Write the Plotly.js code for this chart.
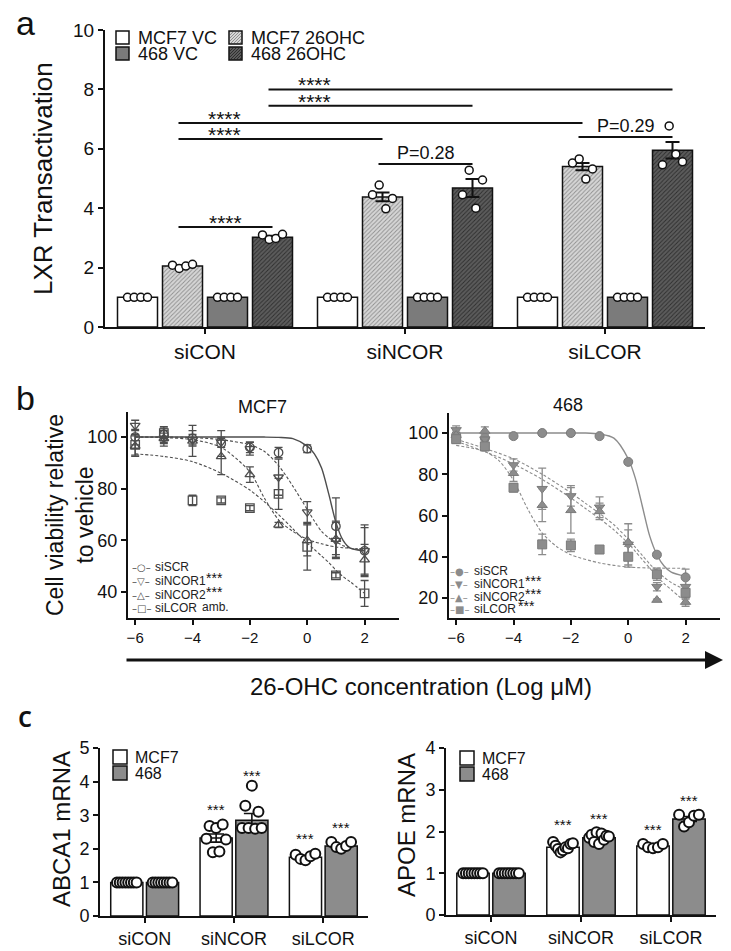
<!DOCTYPE html>
<html><head><meta charset="utf-8">
<script src="https://cdn.plot.ly/plotly-3.0.1.min.js"></script>
<style>html,body{margin:0;padding:0;background:#fff}#chart{width:731px;height:951px}</style>
</head><body><div id="chart"></div>
<script>
// ================= DATA =================
const categories = ['siCON', 'siNCOR', 'siLCOR'];

// ---- panel a : LXR transactivation ----
const aSeriesNames = ['MCF7 VC', 'MCF7 26OHC', '468 VC', '468 26OHC'];
const aMcf7VC   = [1, 1, 1];
const aMcf7OHC  = [2.05, 4.38, 5.40];
const a468VC    = [1, 1, 1];
const a468OHC   = [3.02, 4.68, 5.95];
const aMcf7OHCErr = [0.04, 0.15, 0.12];
const a468OHCErr  = [0.05, 0.30, 0.28];
const aPtsMcf7VC  = [[1, 1, 1, 1], [1, 1, 1, 1], [1, 1, 1, 1]];
const aPtsMcf7OHC = [[2.08, 1.97, 2.05, 2.11], [4.45, 4.78, 3.98, 4.33], [5.52, 5.66, 4.98, 5.32]];
const aPts468VC   = [[1, 1, 1, 1], [1, 1, 1, 1], [1, 1, 1, 1]];
const aPts468OHC  = [[3.10, 2.95, 2.98, 3.12], [4.45, 5.28, 4.00, 4.95], [5.46, 6.77, 5.82, 5.56]];
// significance brackets: [group, bar] -> [group, bar], height, label
const aSigFrom   = [[0, 1], [0, 1], [0, 1], [0, 3], [0, 3], [1, 1], [2, 1]];
const aSigTo     = [[0, 3], [1, 1], [2, 1], [1, 3], [2, 3], [1, 3], [2, 3]];
const aSigY      = [3.37, 6.33, 6.87, 7.45, 8.00, 5.49, 6.40];
const aSigLabels = ['****', '****', '****', '****', '****', 'P=0.28', 'P=0.29'];

// ---- panel b : cell viability ----
const bX = [-6, -5, -4, -3, -2, -1, 0, 1, 2];
const bTickVals = [-6, -4, -2, 0, 2];
const bSeriesNames = ['siSCR', 'siNCOR1', 'siNCOR2', 'siLCOR'];
const bLeftMarks  = ['', '***', '***', 'amb.'];
const bRightMarks = ['', '***', '***', '***'];
// MCF7
const mcf7SCR      = [100, 101, 99.5, 97.5, 96, 94, 95.5, 65.5, 56];
const mcf7SCRErr   = [3, 3, 3, 5, 2, 2, 1.5, 11, 10];
const mcf7NCOR1    = [104.5, 99.5, 99, 98, 95.5, 84.5, 71, 60, 56];
const mcf7NCOR1Err = [2, 2, 2, 2, 2.5, 7, 4, 7, 9];
const mcf7NCOR2    = [96.5, 99.5, 98.5, 92.5, 85.5, 66, 60, 60.5, 52.5];
const mcf7NCOR2Err = [4, 3, 6, 7, 3, 1, 6, 7, 6];
const mcf7LCOR     = [97, 101.5, 75.5, 75.5, 72.5, 78, 57.5, 46.5, 39.5];
const mcf7LCORErr  = [4, 2, 2, 1, 1, 6, 9, 1, 5];
// fitted curves
const curveX = [-6, -5, -4, -3, -2, -1.5, -1, -0.5, 0, 0.25, 0.5, 0.75, 1, 1.25, 1.5, 2];
const mcf7CurveSCR   = [100, 100, 100, 100, 100, 100, 99.9, 99.4, 96.5, 93.5, 88, 78, 67, 60, 57, 56];
const mcf7CurveNCOR1 = [100, 100, 99.8, 99, 97, 94.5, 89, 81, 72, 67.5, 63.5, 61, 59.5, 58, 57, 56];
const mcf7CurveNCOR2 = [100, 99.8, 99, 96, 86.5, 76.5, 68, 63.5, 60.5, 59.5, 58.7, 58, 57.5, 57.2, 57, 56.5];
const mcf7CurveLCOR  = [93.5, 92.5, 90.5, 86, 79.5, 75, 70, 64.5, 59, 56.5, 54, 51.5, 48.5, 46, 44, 39.5];
// 468
const r468SCR      = [99, 97.5, 98.5, 100, 100, 98.5, 86, 41, 30];
const r468SCRErr   = [1, 2, 1, 0.5, 0.5, 0.5, 0.5, 1, 4];
const r468NCOR1    = [101.5, 97, 84.5, 73, 69.5, 64, 46, 25.5, 25.5];
const r468NCOR1Err = [2, 2, 3, 10, 5, 5, 10, 2, 4];
const r468NCOR2    = [99, 101, 80.5, 65, 62.5, 62, 47, 19, 18];
const r468NCOR2Err = [2, 2, 4, 8, 11, 4, 6, 0.5, 2];
const r468LCOR     = [97, 93.5, 73.5, 46, 45.5, 43.5, 40, 31.5, 22.5];
const r468LCORErr  = [2, 2, 2, 5, 3, 0.5, 5, 3, 3];
const r468CurveSCR   = [100, 100, 100, 100, 100, 100, 99.5, 97.5, 87.5, 78, 64, 50, 41, 35.5, 32.5, 30.5];
const r468CurveNCOR1 = [97, 92.5, 87.5, 80, 71, 66, 61, 55.5, 48.5, 44.5, 40.5, 36.5, 33, 30, 27.5, 24];
const r468CurveNCOR2 = [96, 91, 85, 77.5, 68.5, 63.5, 58.5, 53, 46.5, 42.5, 38.5, 34.5, 30.5, 27, 24, 18];
const r468LCORCurveX = [-6, -5, -4.5, -4, -3.5, -3, -2.5, -2, -1, 0, 1, 2];
const r468CurveLCOR  = [94, 91, 86.5, 77, 63, 51.5, 45, 41, 37, 35, 34.5, 34.4];

// ---- panel c : mRNA ----
const cSeriesNames = ['MCF7', '468'];
const abcaMcf7    = [1, 2.32, 1.75];
const abcaMcf7Err = [0, 0.12, 0.04];
const abca468     = [1, 2.85, 2.08];
const abca468Err  = [0, 0.20, 0.07];
const abcaPtsMcf7 = [[1, 1, 1, 1, 1, 1, 1, 1], [2.30, 2.68, 1.90, 2.62, 1.92, 2.72, 2.28], [1.82, 1.70, 1.66, 1.78, 1.85]];
const abcaPts468  = [[1, 1, 1, 1, 1, 1, 1, 1], [2.62, 3.28, 2.62, 3.88, 2.60, 3.10, 2.62], [2.20, 2.05, 2.00, 2.08, 2.20]];
const abcaStarY   = [[null, 3.18, 2.32], [null, 4.18, 2.62]];
const apoeMcf7    = [1, 1.62, 1.65];
const apoeMcf7Err = [0, 0.03, 0.02];
const apoe468     = [1, 1.85, 2.30];
const apoe468Err  = [0, 0.03, 0.06];
const apoePtsMcf7 = [[1, 1, 1, 1, 1, 1, 1, 1], [1.75, 1.66, 1.58, 1.50, 1.55, 1.62, 1.60, 1.70, 1.72], [1.70, 1.62, 1.60, 1.62, 1.70]];
const apoePts468  = [[1, 1, 1, 1, 1, 1, 1, 1], [1.85, 1.92, 1.75, 1.98, 1.70, 1.95, 1.80, 1.90, 1.88], [2.40, 2.12, 2.22, 2.38, 2.40]];
const apoeStarY   = [[null, 2.16, 2.04], [null, 2.30, 2.74]];

// ================= HELPERS =================
const W = 731, H = 951;
const PX = p => p / W;
const PY = p => 1 - p / H;
const FONT = 'Liberation Sans, Arial, Helvetica, sans-serif';
const INK = '#111';

const traces = [];
const shapes = [];
const annotations = [];

function spreadOffsets(n, half) {
  if (n === 1) return [0];
  const o = [];
  for (let i = 0; i < n; i++) o.push(-half + 2 * half * i / (n - 1));
  return o;
}

function axisBase(extra) {
  return Object.assign({
    showline: true, linecolor: INK, linewidth: 2,
    ticks: 'outside', ticklen: 5, tickwidth: 2, tickcolor: INK,
    showgrid: false, zeroline: false, fixedrange: true,
    tickfont: {family: FONT, size: 18, color: INK}
  }, extra);
}
function textAt(px, py, text, size, opts) {
  annotations.push(Object.assign({xref: 'paper', yref: 'paper', x: PX(px), y: PY(py), text: text, showarrow: false,
    xanchor: 'center', yanchor: 'middle', font: {family: FONT, size: size, color: INK}}, opts || {}));
}

// ================= PANEL a =================
const aVals = [aMcf7VC, aMcf7OHC, a468VC, a468OHC];
const aErrs = [null, aMcf7OHCErr, null, a468OHCErr];
const aPts = [aPtsMcf7VC, aPtsMcf7OHC, aPts468VC, aPts468OHC];
const aCenters = [-0.3375, -0.1125, 0.1125, 0.3375];
const aBarW = 0.2;
const aStyles = [
  {color: '#ffffff'},
  {color: '#d0d0d0', pattern: {shape: '/', fgcolor: '#8f8f8f', bgcolor: '#d6d6d6', size: 3, solidity: 0.3}},
  {color: '#7b7b7b'},
  {color: '#555555', pattern: {shape: '/', fgcolor: '#2e2e2e', bgcolor: '#5c5c5c', size: 3, solidity: 0.3}}
];
const catX = categories.map((c, i) => i);
aVals.forEach((vals, k) => {
  traces.push({
    type: 'bar', name: aSeriesNames[k], x: catX, y: vals,
    width: aBarW, offset: aCenters[k] - aBarW / 2,
    marker: Object.assign({}, aStyles[k], {line: {color: INK, width: 1.5}}),
    error_y: aErrs[k] ? {type: 'data', array: aErrs[k], visible: true, color: INK, thickness: 2, width: 7} : {visible: false},
    xaxis: 'x', yaxis: 'y', hoverinfo: 'skip'
  });
});
aPts.forEach((groups, k) => {
  const xs = [], ys = [];
  groups.forEach((pts, g) => {
    const offs = spreadOffsets(pts.length, 0.05);
    pts.forEach((v, i) => { xs.push(g + aCenters[k] + offs[i]); ys.push(v); });
  });
  traces.push({
    type: 'scatter', mode: 'markers', x: xs, y: ys, xaxis: 'x', yaxis: 'y',
    marker: {symbol: 'circle', size: 8, color: '#fff', line: {color: INK, width: 1.5}},
    hoverinfo: 'skip', cliponaxis: false
  });
});
aSigY.forEach((yv, i) => {
  const f = aSigFrom[i], t = aSigTo[i];
  const x0 = f[0] + aCenters[f[1]] - 0.02, x1 = t[0] + aCenters[t[1]];
  shapes.push({type: 'line', xref: 'x', yref: 'y', x0: x0, x1: x1, y0: yv, y1: yv, line: {color: INK, width: 2}});
  const isStar = aSigLabels[i].indexOf('*') === 0;
  const lx = (f[0] === t[0]) ? (x0 + x1) / 2 : x0 + 0.23;
  annotations.push({
    xref: 'x', yref: 'y', x: lx, y: yv, text: aSigLabels[i], showarrow: false,
    xanchor: 'center', yanchor: 'bottom', yshift: isStar ? -9 : -1,
    font: {family: FONT, size: isStar ? 21 : 18, color: INK}
  });
});

// legend a (custom, two columns)
function hatchPath(x0, y0, s, step) {
  let d = '';
  for (let dd = -s + step; dd < s; dd += step) {
    const u0 = Math.max(0, dd), u1 = Math.min(s, s + dd);
    const pA = [x0 + u0, y0 + s - (u0 - dd)], pB = [x0 + u1, y0 + s - (u1 - dd)];
    d += 'M' + PX(pA[0]).toFixed(5) + ',' + PY(pA[1]).toFixed(5) + 'L' + PX(pB[0]).toFixed(5) + ',' + PY(pB[1]).toFixed(5);
  }
  return d;
}
function swatch(x0, y0, s, style) {
  const fill = style.pattern ? style.pattern.bgcolor : style.color;
  shapes.push({type: 'rect', xref: 'paper', yref: 'paper', x0: PX(x0), x1: PX(x0 + s), y0: PY(y0 + s), y1: PY(y0),
    fillcolor: fill, line: {color: INK, width: 1.5}});
  if (style.pattern) {
    shapes.push({type: 'path', xref: 'paper', yref: 'paper', path: hatchPath(x0 + 1, y0 + 1, s - 2, 3),
      line: {color: style.pattern.fgcolor, width: 1}});
  }
}
const aLegPos = [[116, 31], [229, 31], [116, 47], [229, 47]];
aSeriesNames.forEach((nm, k) => {
  swatch(aLegPos[k][0], aLegPos[k][1], 13, aStyles[k]);
  textAt(aLegPos[k][0] + 20, aLegPos[k][1] + 7, nm, 18, {xanchor: 'left'});
});
// y title a
textAt(43, 179, 'LXR Transactivation', 26, {textangle: -90});

// ================= PANEL b =================
const leftSets = [
  [mcf7SCR, mcf7SCRErr, 'circle-open', curveX, mcf7CurveSCR, 'solid'],
  [mcf7NCOR1, mcf7NCOR1Err, 'triangle-down-open', curveX, mcf7CurveNCOR1, '3px,2px'],
  [mcf7NCOR2, mcf7NCOR2Err, 'triangle-up-open', curveX, mcf7CurveNCOR2, '3px,2px'],
  [mcf7LCOR, mcf7LCORErr, 'square-open', curveX, mcf7CurveLCOR, '3px,2px']
];
const rightSets = [
  [r468SCR, r468SCRErr, 'circle', curveX, r468CurveSCR, 'solid'],
  [r468NCOR1, r468NCOR1Err, 'triangle-down', curveX, r468CurveNCOR1, '3px,2px'],
  [r468NCOR2, r468NCOR2Err, 'triangle-up', curveX, r468CurveNCOR2, '3px,2px'],
  [r468LCOR, r468LCORErr, 'square', r468LCORCurveX, r468CurveLCOR, '3px,2px']
];
function addViability(sets, xa, ya, col, lineCol, filled) {
  sets.forEach((s, k) => {
    traces.push({
      type: 'scatter', mode: 'lines', x: s[3], y: s[4], xaxis: xa, yaxis: ya,
      line: {color: lineCol, width: k === 0 ? 1.4 : 1.1, dash: s[5], shape: 'spline', smoothing: 0.8},
      hoverinfo: 'skip', name: bSeriesNames[k] + ' fit'
    });
  });
  sets.forEach((s, k) => {
    traces.push({
      type: 'scatter', mode: 'markers', x: bX, y: s[0], xaxis: xa, yaxis: ya, name: bSeriesNames[k],
      marker: filled ? {symbol: s[2], size: 9, color: col, line: {color: '#7a7a7a', width: 1}}
                     : {symbol: s[2], size: 8.5, color: col, line: {color: col, width: 1.3}},
      error_y: {type: 'data', array: s[1], visible: true, color: col, thickness: 1.3, width: 4},
      hoverinfo: 'skip', cliponaxis: false
    });
  });
}
addViability(leftSets, 'x2', 'y2', '#4d4d4d', '#4d4d4d', false);
addViability(rightSets, 'x3', 'y3', '#8c8c8c', '#8c8c8c', true);

// custom legends for panel b
function bLegend(symX, textX, rows, glyphs, col, marks, markX) {
  bSeriesNames.forEach((nm, k) => {
    textAt(symX, rows[k], glyphs[k], 10, {font: {family: 'DejaVu Sans, sans-serif', size: 10, color: col}});
    textAt(textX, rows[k], nm, 12, {xanchor: 'left', font: {family: FONT, size: 12, color: '#222'}});
    if (marks[k] === '***') {
      textAt(markX[k], rows[k] - 3, '***', 14, {xanchor: 'left', font: {family: FONT, size: 14, color: INK}});
    } else if (marks[k]) {
      textAt(markX[k], rows[k] - 1, marks[k], 12, {xanchor: 'left', font: {family: FONT, size: 12, color: '#222'}});
    }
  });
}
bLegend(141, 153, [567, 581, 595, 608], ['–○–', '–▽–', '–△–', '–□–'], '#4d4d4d', bLeftMarks, [0, 204, 204, 200]);
bLegend(459, 472, [571, 584, 597, 609], ['–●–', '–▼–', '–▲–', '–■–'], '#8c8c8c', bRightMarks, [0, 523, 523, 516]);

// panel b titles, y title, arrow & shared x title
textAt(262, 407, 'MCF7', 18);
textAt(568, 405, '468', 18);
textAt(70, 515, 'Cell viability relative<br>to vehicle', 23, {textangle: -90});
annotations.push({xref: 'paper', yref: 'paper', x: PX(723), y: PY(660), axref: 'pixel', ayref: 'pixel', ax: -598, ay: 0,
  text: '', showarrow: true, arrowhead: 2, arrowsize: 1.2, arrowwidth: 3, arrowcolor: INK, standoff: 0});
textAt(421, 686, '26-OHC concentration (Log μM)', 24);

// ================= PANEL c =================
const cCenters = [-0.2, 0.2];
const cBarW = 0.36;
const cColors = ['#ffffff', '#8c8c8c'];
function addMrna(vals, errs, pts, starY, xa, ya) {
  vals.forEach((v, k) => {
    traces.push({
      type: 'bar', name: cSeriesNames[k], x: catX, y: v, width: cBarW, offset: cCenters[k] - cBarW / 2,
      marker: {color: cColors[k], line: {color: INK, width: 1.5}},
      error_y: {type: 'data', array: errs[k], visible: true, color: INK, thickness: 1.6, width: 8},
      xaxis: xa, yaxis: ya, hoverinfo: 'skip'
    });
  });
  pts.forEach((groups, k) => {
    const xs = [], ys = [];
    groups.forEach((p, g) => {
      const offs = spreadOffsets(p.length, 0.11);
      p.forEach((v, i) => { xs.push(g + cCenters[k] + offs[i]); ys.push(v); });
    });
    traces.push({type: 'scatter', mode: 'markers', x: xs, y: ys, xaxis: xa, yaxis: ya,
      marker: {symbol: 'circle', size: 10, color: '#fff', line: {color: INK, width: 2}}, hoverinfo: 'skip', cliponaxis: false});
  });
  starY.forEach((arr, k) => arr.forEach((sy, g) => {
    if (sy === null) return;
    annotations.push({xref: xa, yref: ya, x: g + cCenters[k], y: sy, text: '***', showarrow: false,
      xanchor: 'center', yanchor: 'middle', font: {family: FONT, size: 15, color: INK}});
  }));
}
addMrna([abcaMcf7, abca468], [abcaMcf7Err, abca468Err], [abcaPtsMcf7, abcaPts468], abcaStarY, 'x4', 'y4');
addMrna([apoeMcf7, apoe468], [apoeMcf7Err, apoe468Err], [apoePtsMcf7, apoePts468], apoeStarY, 'x5', 'y5');
const cLegPos = [[[113, 750], [113, 766]], [[460, 751], [460, 767]]];
cLegPos.forEach(pp => pp.forEach((p, k) => {
  swatch(p[0], p[1], 14, {color: cColors[k]});
  textAt(p[0] + 20, p[1] + 7, cSeriesNames[k], 16, {xanchor: 'left'});
}));
textAt(61, 829, 'ABCA1 mRNA', 24, {textangle: -90});
textAt(406, 825, 'APOE mRNA', 24, {textangle: -90});

// panel letters
textAt(14, 23, 'a', 34, {xanchor: 'left'});
textAt(14, 398, 'b', 34, {xanchor: 'left'});
textAt(16, 716, 'c', 28, {xanchor: 'left', font: {family: 'Open Sans, Noto Sans, sans-serif', size: 28, color: INK, weight: 600}});

// ================= LAYOUT =================
const layout = {
  width: W, height: H, margin: {l: 0, r: 0, t: 0, b: 0},
  paper_bgcolor: '#ffffff', plot_bgcolor: 'rgba(0,0,0,0)',
  font: {family: FONT, color: INK}, showlegend: false,
  xaxis: axisBase({domain: [PX(105), PX(705)], range: [-0.5, 2.5], tickvals: catX, ticktext: categories, anchor: 'y',
    tickfont: {family: FONT, size: 21, color: INK}}),
  yaxis: axisBase({domain: [PY(327), PY(30)], range: [0, 10], dtick: 2, anchor: 'x',
    tickfont: {family: FONT, size: 19, color: INK}}),
  xaxis2: axisBase({domain: [PX(128), PX(399)], range: [-6.25, 3.2], tickvals: bTickVals, anchor: 'y2',
    tickfont: {family: FONT, size: 15, color: INK}}),
  yaxis2: axisBase({domain: [PY(618), PY(412)], range: [30, 109.7], tickvals: [40, 60, 80, 100], anchor: 'x2'}),
  xaxis3: axisBase({domain: [PX(449), PX(720)], range: [-6.25, 3.2], tickvals: bTickVals, anchor: 'y3',
    tickfont: {family: FONT, size: 15, color: INK}}),
  yaxis3: axisBase({domain: [PY(618), PY(413)], range: [10.3, 109.7], tickvals: [20, 40, 60, 80, 100], anchor: 'x3'}),
  xaxis4: axisBase({domain: [PX(100), PX(368)], range: [-0.5, 2.5], tickvals: catX, ticktext: categories, anchor: 'y4'}),
  yaxis4: axisBase({domain: [PY(916), PY(748)], range: [0, 5], dtick: 1, anchor: 'x4'}),
  xaxis5: axisBase({domain: [PX(446), PX(716)], range: [-0.5, 2.5], tickvals: catX, ticktext: categories, anchor: 'y5'}),
  yaxis5: axisBase({domain: [PY(915), PY(748)], range: [0, 4], dtick: 1, anchor: 'x5'}),
  shapes: shapes, annotations: annotations
};

Plotly.newPlot('chart', traces, layout, {staticPlot: true, displayModeBar: false});
</script></body></html>
